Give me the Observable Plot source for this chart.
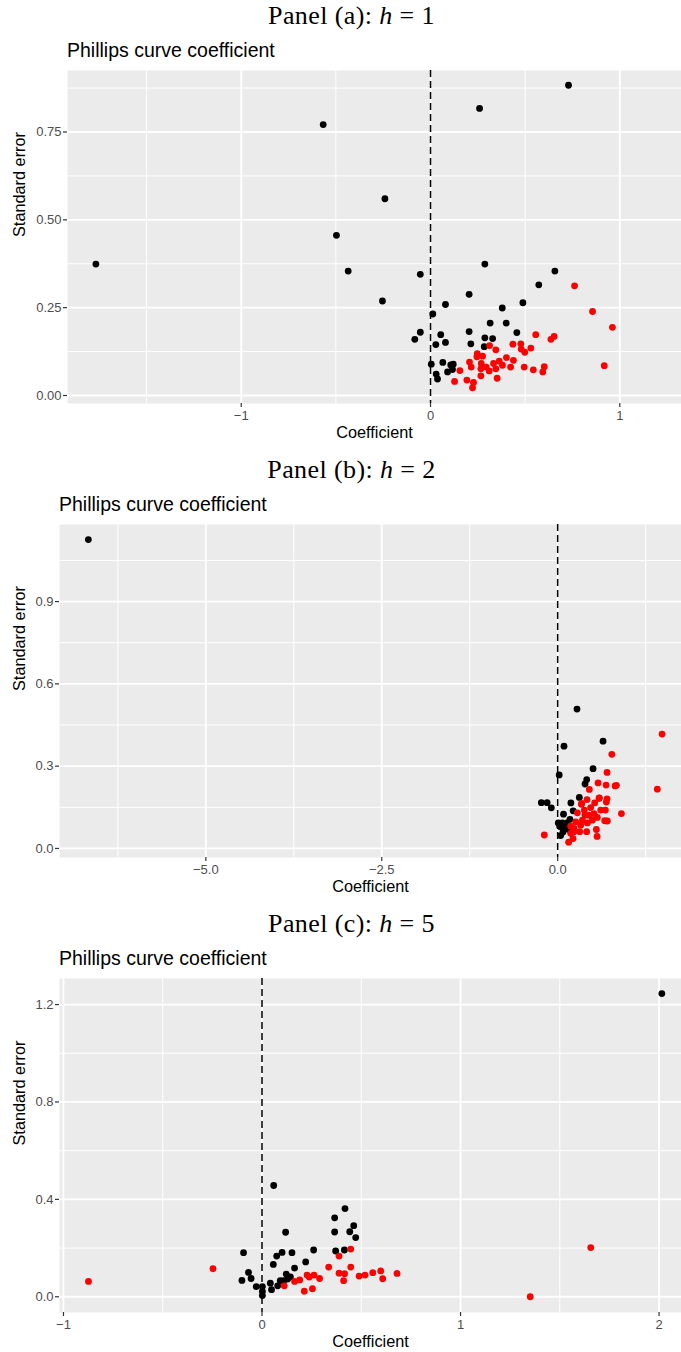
<!DOCTYPE html>
<html>
<head>
<meta charset="utf-8">
<script src="https://cdn.jsdelivr.net/npm/d3@7"></script>
<script src="https://cdn.jsdelivr.net/npm/@observablehq/plot@0.6"></script>
<style>
  body { margin: 0; background: #fff; }
  #fig { position: relative; width: 681px; height: 1352px; overflow: hidden; background: #fff; }
  .ttl { position: absolute; left: 151px; width: 401px; text-align: center;
         font-family: "Liberation Serif", "Times New Roman", serif; font-size: 26px; line-height: 26px;
         letter-spacing: 0.4px; white-space: nowrap; color: #000; }
  .sub { position: absolute; font-family: "Liberation Sans", Arial, sans-serif; font-size: 19.5px;
         line-height: 19.5px; white-space: nowrap; color: #000; }
</style>
</head>
<body>
<div id="fig"></div>
<script>
// Shared text
const panelIds = ["a", "b", "c"];
const horizons = [1, 2, 5];
const subtitleText = "Phillips curve coefficient";
const xTitle = "Coefficient";
const yTitle = "Standard error";

// Panel (a): h = 1
const aBlackCoef = [-1.768, -0.567, -0.241, -0.497, -0.435, -0.254, 0.729, 0.259, -0.054, 0.287, 0.657, 0.572, 0.204, 0.488, 0.079, 0.012, 0.379, 0.315, 0.400, 0.204, 0.456, -0.054, -0.083, 0.054, 0.079, 0.028, 0.213, 0.287, 0.328, 0.284, 0.004, 0.065, 0.107, 0.120, 0.116, 0.090, 0.030, 0.037];
const aBlackSE   = [0.374, 0.771, 0.560, 0.456, 0.354, 0.269, 0.883, 0.817, 0.345, 0.374, 0.354, 0.315, 0.288, 0.264, 0.259, 0.232, 0.249, 0.206, 0.206, 0.182, 0.179, 0.180, 0.160, 0.173, 0.151, 0.145, 0.147, 0.164, 0.162, 0.139, 0.089, 0.094, 0.087, 0.089, 0.074, 0.067, 0.061, 0.047];
const aRedCoef = [0.761, 0.856, 0.961, 0.918, 0.556, 0.653, 0.636, 0.435, 0.477, 0.530, 0.479, 0.498, 0.312, 0.345, 0.247, 0.275, 0.245, 0.401, 0.438, 0.363, 0.333, 0.206, 0.215, 0.268, 0.294, 0.266, 0.310, 0.345, 0.380, 0.423, 0.495, 0.543, 0.601, 0.593, 0.155, 0.266, 0.352, 0.127, 0.192, 0.227, 0.222];
const aRedSE   = [0.312, 0.239, 0.194, 0.085, 0.173, 0.168, 0.160, 0.146, 0.147, 0.135, 0.132, 0.123, 0.142, 0.130, 0.119, 0.112, 0.110, 0.108, 0.100, 0.098, 0.091, 0.095, 0.081, 0.091, 0.081, 0.076, 0.070, 0.076, 0.086, 0.081, 0.081, 0.073, 0.082, 0.067, 0.071, 0.056, 0.049, 0.040, 0.044, 0.037, 0.022];
const aXTicks = [-1, 0, 1];
const aXTickLabels = ["\u22121", "0", "1"];
const aXMinor = [-1.5, -0.5, 0.5];
const aYTicks = [0, 0.25, 0.5, 0.75];
const aYTickLabels = ["0.00", "0.25", "0.50", "0.75"];
const aYMinor = [0.125, 0.375, 0.625, 0.875];

// Panel (b): h = 2
const bBlackCoef = [-6.67, 0.275, 0.090, 0.645, 0.503, 0.022, 0.413, 0.389, 0.308, -0.232, -0.150, -0.090, 0.188, 0.083, 0.220, 0.175, 0.009, 0.066, 0.133, 0.100, 0.043, 0.076, 0.030, 0.120, 0.150];
const bBlackSE   = [1.126, 0.508, 0.373, 0.391, 0.291, 0.268, 0.251, 0.235, 0.186, 0.167, 0.167, 0.148, 0.166, 0.125, 0.137, 0.106, 0.093, 0.093, 0.093, 0.075, 0.047, 0.060, 0.080, 0.085, 0.070];
const bRedCoef = [1.484, 1.416, 0.770, 0.702, 0.574, 0.688, 0.816, 0.835, 0.450, 0.906, -0.190, 0.156, 0.702, 0.692, 0.588, 0.417, 0.337, 0.526, 0.678, 0.669, 0.706, 0.564, 0.550, 0.560, 0.412, 0.313, 0.218, 0.185, 0.280, 0.379, 0.469, 0.446, 0.351, 0.422, 0.493, 0.256, 0.185, 0.232, 0.327, 0.517, 0.612, 0.232, 0.389, 0.341, 0.593];
const bRedSE   = [0.417, 0.216, 0.343, 0.277, 0.239, 0.231, 0.228, 0.230, 0.215, 0.127, 0.049, 0.023, 0.181, 0.169, 0.183, 0.178, 0.161, 0.166, 0.140, 0.101, 0.100, 0.113, 0.069, 0.044, 0.061, 0.061, 0.036, 0.081, 0.130, 0.140, 0.149, 0.121, 0.103, 0.093, 0.103, 0.097, 0.055, 0.061, 0.085, 0.127, 0.140, 0.073, 0.121, 0.164, 0.184];
const bXTicks = [-5, -2.5, 0];
const bXTickLabels = ["\u22125.0", "\u22122.5", "0.0"];
const bXMinor = [-6.25, -3.75, -1.25, 1.25];
const bYTicks = [0, 0.3, 0.6, 0.9];
const bYTickLabels = ["0.0", "0.3", "0.6", "0.9"];
const bYMinor = [0.15, 0.45, 0.75, 1.05];

// Panel (c): h = 5
const cBlackCoef = [2.014, 0.059, 0.418, 0.366, 0.462, 0.442, 0.366, 0.472, 0.119, 0.260, 0.371, 0.415, -0.093, 0.101, 0.151, 0.074, 0.220, 0.057, 0.164, -0.068, -0.055, -0.101, -0.029, 0.002, 0.002, 0.002, 0.042, 0.048, 0.079, 0.092, 0.122, 0.143, 0.129, 0.109];
const cBlackSE   = [1.245, 0.457, 0.362, 0.324, 0.292, 0.267, 0.266, 0.243, 0.265, 0.192, 0.188, 0.192, 0.181, 0.182, 0.181, 0.167, 0.143, 0.133, 0.118, 0.100, 0.075, 0.067, 0.042, 0.042, 0.005, 0.022, 0.056, 0.029, 0.045, 0.066, 0.093, 0.082, 0.073, 0.066];
const cRedCoef = [-0.874, -0.247, 0.112, 0.164, 0.190, 0.213, 0.254, 0.227, 0.238, 0.262, 0.290, 0.336, 0.388, 0.447, 0.388, 0.416, 0.447, 0.411, 0.489, 0.519, 0.558, 0.598, 0.608, 0.680, 1.656, 1.351];
const cRedSE   = [0.063, 0.115, 0.045, 0.063, 0.069, 0.023, 0.033, 0.089, 0.081, 0.089, 0.075, 0.122, 0.167, 0.196, 0.097, 0.095, 0.122, 0.066, 0.085, 0.089, 0.099, 0.106, 0.074, 0.096, 0.202, 0.000];
const cXTicks = [-1, 0, 1, 2];
const cXTickLabels = ["\u22121", "0", "1", "2"];
const cXMinor = [-0.5, 0.5, 1.5];
const cYTicks = [0, 0.4, 0.8, 1.2];
const cYTickLabels = ["0.0", "0.4", "0.8", "1.2"];
const cYMinor = [0.2, 0.6, 1.0];

const SANS = "'Liberation Sans', Arial, Helvetica, sans-serif";
const fig = document.getElementById("fig");

const zip = (xs, ys) => xs.map((x, i) => ({coef: x, se: ys[i]}));

const panels = [
  {top: 70, bottom: 403, left: 67, xDomain: [-1.918, 1.326], yDomain: [-0.0228, 0.925],
   black: zip(aBlackCoef, aBlackSE), red: zip(aRedCoef, aRedSE),
   xTicks: aXTicks, xLabels: aXTickLabels, xMinor: aXMinor,
   yTicks: aYTicks, yLabels: aYTickLabels, yMinor: aYMinor},
  {top: 524, bottom: 857, left: 59, xDomain: [-7.08, 1.76], yDomain: [-0.033, 1.181],
   black: zip(bBlackCoef, bBlackSE), red: zip(bRedCoef, bRedSE),
   xTicks: bXTicks, xLabels: bXTickLabels, xMinor: bXMinor,
   yTicks: bYTicks, yLabels: bYTickLabels, yMinor: bYMinor},
  {top: 978, bottom: 1312, left: 59, xDomain: [-1.02, 2.113], yDomain: [-0.0646, 1.307],
   black: zip(cBlackCoef, cBlackSE), red: zip(cRedCoef, cRedSE),
   xTicks: cXTicks, xLabels: cXTickLabels, xMinor: cXMinor,
   yTicks: cYTicks, yLabels: cYTickLabels, yMinor: cYMinor}
];

panels.forEach((p, k) => {
  // Panel heading (serif, with an italic h)
  const ttl = document.createElement("div");
  ttl.className = "ttl";
  ttl.style.top = (p.top - 45 - 21.8) + "px";
  ttl.append(`Panel (${panelIds[k]}): `);
  const hi = document.createElement("i");
  hi.textContent = "h";
  ttl.append(hi, `\u2009=\u2009${horizons[k]}`.replace("\u2009=\u2009", " = "));
  fig.append(ttl);

  // Subtitle aligned with the plotting area
  const sub = document.createElement("div");
  sub.className = "sub";
  sub.style.left = p.left + "px";
  sub.style.top = (p.top - 13 - 16.5) + "px";
  sub.textContent = subtitleText;
  fig.append(sub);

  const mt = 6, mb = 48;
  const xFmt = new Map(p.xTicks.map((v, i) => [v, p.xLabels[i]]));
  const yFmt = new Map(p.yTicks.map((v, i) => [v, p.yLabels[i]]));
  const grid = {stroke: "white", strokeOpacity: 1};

  const svg = Plot.plot({
    width: 681,
    height: (p.bottom - p.top) + mt + mb,
    marginTop: mt, marginBottom: mb, marginLeft: p.left, marginRight: 0,
    style: {fontFamily: SANS, background: "transparent", overflow: "visible"},
    x: {domain: p.xDomain},
    y: {domain: p.yDomain},
    marks: [
      Plot.frame({fill: "#EBEBEB", stroke: "none"}),
      Plot.gridX(p.xMinor, {...grid, strokeWidth: 1}),
      Plot.gridY(p.yMinor, {...grid, strokeWidth: 1}),
      Plot.gridX(p.xTicks, {...grid, strokeWidth: 1.8}),
      Plot.gridY(p.yTicks, {...grid, strokeWidth: 1.8}),
      Plot.ruleX([0], {stroke: "black", strokeWidth: 1.5, strokeDasharray: "7,4"}),
      Plot.dot(p.black, {x: "coef", y: "se", r: 3.4, fill: "black", stroke: "none"}),
      Plot.dot(p.red, {x: "coef", y: "se", r: 3.4, fill: "#FF0000", stroke: "none"}),
      Plot.axisX(p.xTicks, {tickFormat: d => xFmt.get(d), tickSize: 4, tickPadding: 3, fontSize: 13,
                            fill: "#4D4D4D", stroke: "#333333", strokeWidth: 1.2, label: null}),
      Plot.axisY(p.yTicks, {tickFormat: d => yFmt.get(d), tickSize: 4, tickPadding: 2, fontSize: 13,
                            fill: "#4D4D4D", stroke: "#333333", strokeWidth: 1.2, label: null}),
      Plot.text([xTitle], {text: d => d, frameAnchor: "bottom", dy: 34, fontSize: 16.3, fill: "black"}),
      Plot.text([yTitle], {text: d => d, frameAnchor: "left", dx: -(p.left - 19), rotate: -90,
                           fontSize: 16.3, fill: "black"})
    ]
  });
  svg.style.position = "absolute";
  svg.style.left = "0px";
  svg.style.top = (p.top - mt) + "px";
  fig.append(svg);
});
</script>
</body>
</html>
